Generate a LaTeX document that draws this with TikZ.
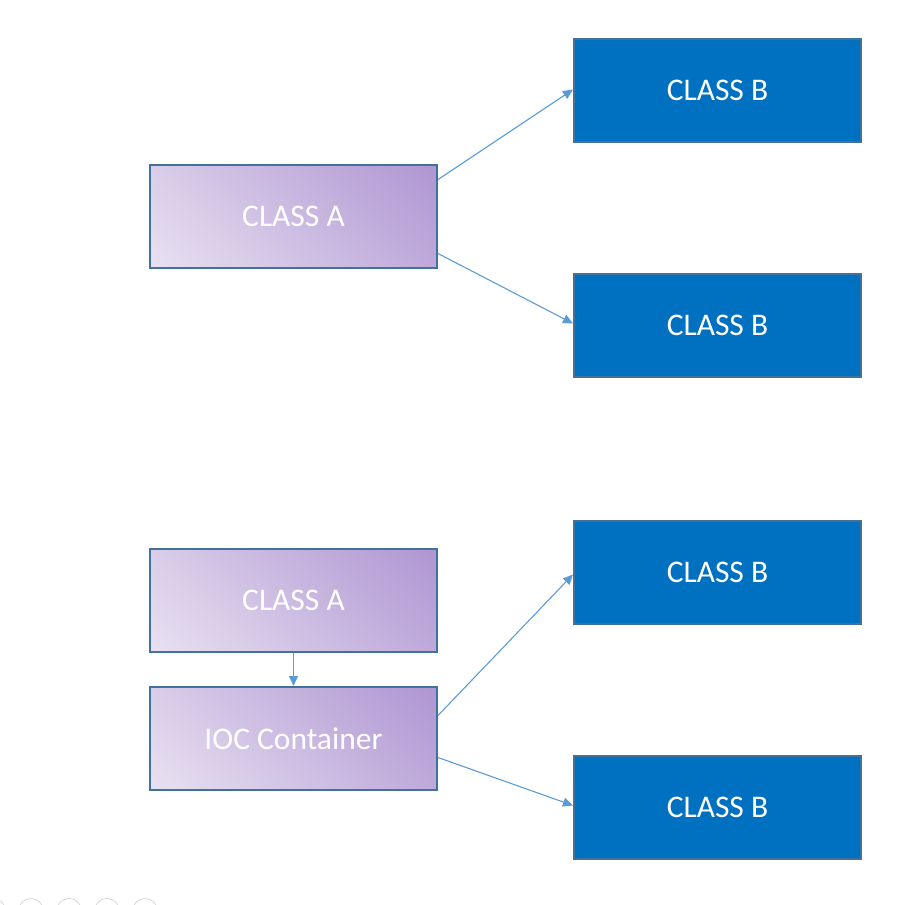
\documentclass[tikz,border=0pt]{standalone}
\usepackage{fontspec}
\setmainfont{Carlito}
\usetikzlibrary{arrows.meta}
\definecolor{boxline}{HTML}{41719C}
\definecolor{classb}{HTML}{0070C0}
\definecolor{purdark}{HTML}{AF95D2}
\definecolor{purlight}{HTML}{E8E1F1}
\definecolor{conn}{HTML}{5B9BD5}
\definecolor{faint}{HTML}{D6D6D6}
\pgfdeclareverticalshading{purgrad}{100bp}{color(0bp)=(purlight); color(14.6bp)=(purlight); color(85.4bp)=(purdark); color(100bp)=(purdark)}
\tikzset{
  base/.style={draw=boxline, line width=2pt, minimum width=287pt, minimum height=103pt,
    inner sep=0pt, text=white, font=\fontsize{31.5}{36}\selectfont},
  classbbox/.style={base, fill=classb},
  classabox/.style={base, shading=purgrad, shading angle=-45},
  link/.style={draw=conn, line width=1.1pt, -{Triangle[length=10pt,width=9pt]}},
}
\begin{document}
\begin{tikzpicture}[x=1pt,y=-1pt]
\useasboundingbox (0,0) rectangle (901,905);
% top group
\node[classabox] (a1) at (293.5,216.5) {CLASS A};
\node[classbbox] (b1) at (717.5,90.5) {CLASS B};
\node[classbbox] (b2) at (717.5,325.5) {CLASS B};
% bottom group
\node[classabox] (a2) at (293.5,600.5) {CLASS A};
\node[classabox] (ioc) at (293.5,738.5) {IOC Container};
\node[classbbox] (b3) at (717.5,572.5) {CLASS B};
\node[classbbox] (b4) at (717.5,807.5) {CLASS B};
% connectors
\draw[link] ([yshift=37pt]a1.east) -- ([yshift=1pt]b1.west);
\draw[link] ([yshift=-37pt]a1.east) -- ([yshift=2pt]b2.west);
\draw[link] (a2.south) -- (ioc.north);
\draw[link] ([yshift=23pt]ioc.east) -- ([yshift=-2pt]b3.west);
\draw[link] ([yshift=-19pt]ioc.east) -- ([yshift=2pt]b4.west);
% faint circles at bottom edge
\begin{scope}
\clip (0,0) rectangle (901,905);
\foreach \cx in {-7,31,69,107,145}
  \draw[faint, line width=0.8pt] (\cx,911) circle (12.5);
\end{scope}
\end{tikzpicture}
\end{document}
